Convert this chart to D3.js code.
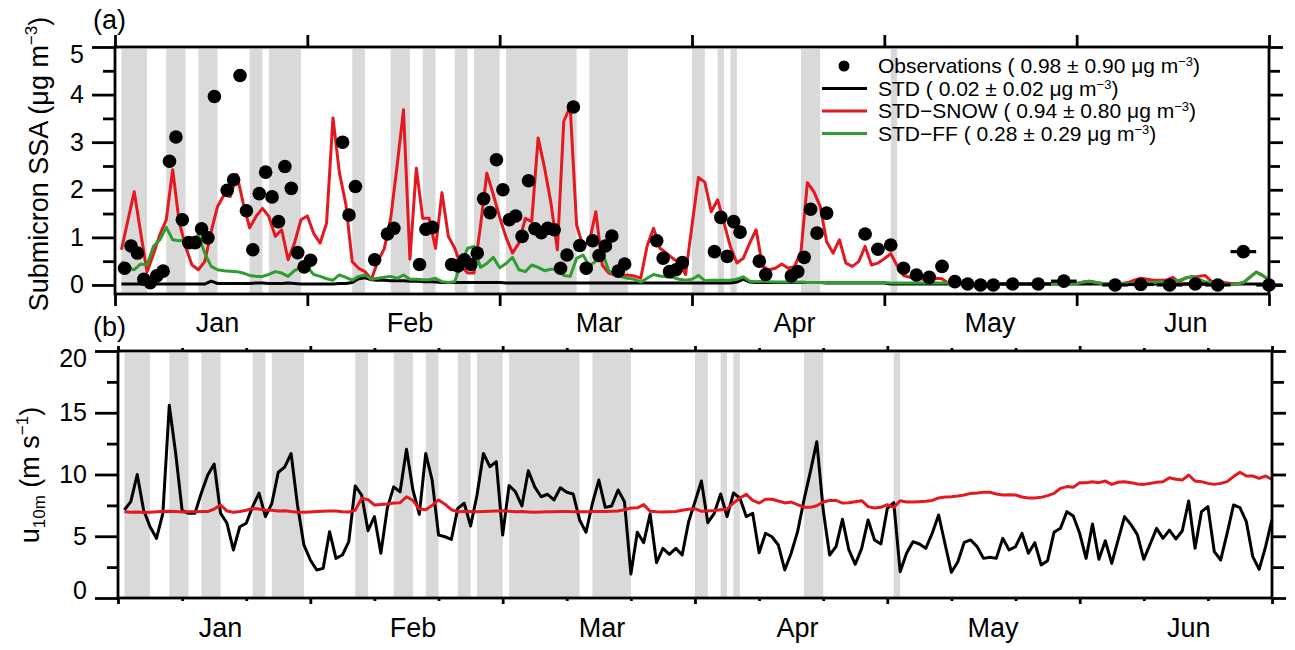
<!DOCTYPE html>
<meta charset="utf-8">
<style>
body { margin: 0; background: #fff; }
text { font-family: "Liberation Sans", Arial, sans-serif; fill: #000; }
.band { fill: #d9d9d9; }
.frame { fill: none; stroke: #000; stroke-width: 2.8px; }
.line { fill: none; stroke-width: 3px; stroke-linejoin: round; }
.tick line { stroke: #000; stroke-width: 2.8px; }
</style>
<body>
<script src="https://d3js.org/d3.v7.min.js"></script>
<script>
// ---- data (x = day, 1 = 1 Jan) ----
var monthLabels = ["Jan", "Feb", "Mar", "Apr", "May", "Jun"];
var monthMid    = [16, 46, 75.5, 106, 136.5, 167];

// grey shading (start / end day)
var bandStart = [1, 8, 13, 21, 24, 37, 43, 48, 53, 56, 61, 74, 90, 94, 96, 107, 121];
var bandEnd   = [5, 11, 16, 23, 29, 39, 46, 50, 55, 60, 72, 80, 92, 95, 97, 110, 122];

// panel (a) model series, one value per day, day 1..180
var stdVals = [
  0.02,0.02,0.02,0.02,0.02,0.02,0.02,0.02,0.02,0.02,
  0.02,0.02,0.02,0.02,0.08,0.03,0.03,0.03,0.03,0.03,
  0.03,0.04,0.04,0.03,0.03,0.03,0.04,0.03,0.02,0.02,
  0.02,0.02,0.02,0.02,0.03,0.03,0.05,0.13,0.15,0.11,
  0.10,0.10,0.09,0.09,0.09,0.08,0.08,0.07,0.07,0.06,
  0.05,0.05,0.05,0.05,0.05,0.05,0.05,0.05,0.05,0.05,
  0.04,0.04,0.04,0.04,0.04,0.04,0.04,0.04,0.04,0.04,
  0.04,0.04,0.04,0.04,0.04,0.04,0.04,0.04,0.04,0.04,
  0.04,0.04,0.04,0.04,0.04,0.04,0.04,0.04,0.04,0.04,
  0.04,0.04,0.04,0.04,0.04,0.04,0.06,0.12,0.06,0.05,
  0.05,0.05,0.05,0.05,0.05,0.05,0.05,0.05,0.05,0.05,
  0.04,0.04,0.04,0.04,0.04,0.04,0.04,0.04,0.04,0.04,
  0.02,0.02,0.02,0.02,0.02,0.02,0.02,0.02,0.02,0.02,
  0.02,0.02,0.02,0.02,0.02,0.02,0.02,0.02,0.02,0.02,
  0.02,0.02,0.02,0.02,0.02,0.02,0.02,0.02,0.02,0.02,
  0.02,0.02,0.02,0.02,0.02,0.02,0.02,0.02,0.02,0.02,
  0.02,0.02,0.02,0.02,0.02,0.02,0.02,0.02,0.02,0.02,
  0.02,0.02,0.02,0.02,0.02,0.02,0.02,0.02,0.02,0.02
];
var snowVals = [
  0.74,1.35,1.96,1.10,0.27,0.65,1.06,1.37,2.42,1.33,
  0.81,0.42,0.32,0.49,1.12,1.65,1.89,1.86,2.32,1.72,
  1.20,1.44,1.61,1.44,1.02,1.16,0.53,0.88,1.37,1.45,
  1.08,0.88,1.30,3.51,2.36,1.70,0.49,0.35,0.28,0.12,
  0.50,0.76,1.40,2.50,3.68,0.54,2.45,1.40,1.40,0.77,
  1.94,1.02,0.77,0.39,0.25,0.25,1.23,2.35,1.90,1.42,
  1.00,0.67,0.88,1.40,1.33,3.09,2.46,1.72,0.74,3.44,
  3.75,1.26,0.81,0.91,1.54,0.42,0.25,0.21,0.19,0.21,
  0.19,0.14,0.82,1.19,0.77,0.67,0.56,0.46,0.22,1.25,
  2.26,2.16,1.54,1.79,1.30,0.80,0.46,0.56,0.88,1.16,
  0.39,0.32,0.35,0.44,0.35,0.39,0.70,2.15,1.96,1.65,
  0.91,0.67,0.95,0.46,0.39,0.49,0.81,0.42,0.46,0.55,
  0.66,0.40,0.20,0.16,0.14,0.12,0.13,0.14,0.13,0.03,
  0.03,0.03,0.03,0.03,0.03,0.03,0.03,0.03,0.03,0.03,
  0.03,0.03,0.03,0.03,0.03,0.03,0.03,0.03,0.03,0.03,
  0.06,0.08,0.05,0.03,0.03,0.03,0.03,0.05,0.10,0.14,
  0.12,0.10,0.10,0.10,0.16,0.06,0.15,0.17,0.18,0.20,
  0.08,0.06,0.05,0.03,0.02,0.05,0.16,0.27,0.20,0.11
];
var ffVals = [
  0.49,0.36,0.32,0.44,0.42,0.81,0.95,1.21,0.95,0.93,
  0.95,0.93,1.05,0.67,0.39,0.32,0.30,0.29,0.28,0.25,
  0.20,0.18,0.18,0.22,0.28,0.25,0.18,0.30,0.37,0.37,
  0.22,0.18,0.13,0.10,0.21,0.16,0.10,0.18,0.21,0.12,
  0.14,0.16,0.18,0.14,0.21,0.12,0.12,0.11,0.11,0.14,
  0.07,0.05,0.07,0.46,0.77,0.81,0.37,0.45,0.58,0.36,
  0.45,0.58,0.32,0.28,0.42,0.37,0.30,0.33,0.33,0.20,
  0.18,0.56,0.63,0.40,0.50,0.70,0.30,0.22,0.17,0.14,
  0.12,0.06,0.14,0.22,0.19,0.17,0.16,0.12,0.10,0.12,
  0.20,0.09,0.10,0.10,0.10,0.10,0.12,0.17,0.08,0.07,
  0.08,0.07,0.06,0.06,0.06,0.06,0.06,0.05,0.05,0.05,
  0.05,0.05,0.05,0.05,0.05,0.05,0.05,0.05,0.05,0.05,
  0.04,0.04,0.04,0.04,0.04,0.04,0.04,0.04,0.04,0.04,
  0.03,0.03,0.03,0.03,0.03,0.03,0.03,0.03,0.03,0.03,
  0.03,0.03,0.03,0.03,0.03,0.03,0.03,0.03,0.03,0.03,
  0.06,0.08,0.05,0.03,0.03,0.03,0.03,0.03,0.03,0.04,
  0.05,0.05,0.06,0.07,0.09,0.10,0.14,0.18,0.12,0.07,
  0.05,0.03,0.02,0.01,0.02,0.05,0.16,0.27,0.20,0.11
];

// observations: day, value, half-width of the sampling period (days)
var obsDay = [1.5,2.5,3.5,4.5,5.5,6.5,7.5,8.5,9.5,10.5,11.5,12.5,13.5,14.5,15.5,
  17.5,18.5,19.5,20.5,21.5,22.5,23.5,24.5,25.5,26.5,27.5,28.5,29.5,30.5,
  35.5,36.5,37.5,40.5,42.5,43.5,47.5,48.5,49.5,
  52.5,53.5,54.5,55.5,56.5,57.5,58.5,59.5,60.5,61.5,62.5,63.5,64.5,65.5,66.5,67.5,
  68.5,69.5,70.5,71.5,72.5,73.5,74.5,75.5,76.5,77.5,78.5,79.5,
  84.5,85.5,86.5,87.5,88.5,93.5,94.5,95.5,96.5,97.5,100.5,101.5,
  105.5,106.5,107.5,108.5,109.5,
  111,117,119,121,123,125,127,129,131,133,135,137,
  140,144,148,156,160,164.5,168.5,172,176,180];
var obsVal = [0.35,0.82,0.67,0.12,0.05,0.19,0.29,2.60,3.11,1.37,0.89,0.89,1.18,0.99,3.96,
  1.99,2.21,4.40,1.56,0.74,1.92,2.37,1.85,1.33,2.49,2.03,0.68,0.38,0.52,
  3.00,1.47,2.07,0.53,1.07,1.19,0.43,1.17,1.21,
  0.43,0.40,0.53,0.43,0.67,1.81,1.52,2.63,2.00,1.37,1.45,1.02,2.19,1.18,1.10,1.19,
  1.16,0.35,0.63,3.74,0.83,0.35,0.93,0.62,0.82,1.03,0.29,0.44,
  0.93,0.56,0.28,0.32,0.47,0.70,1.42,0.60,1.33,1.11,0.50,0.22,
  0.19,0.28,0.58,1.59,1.09,
  1.51,1.07,0.75,0.84,0.35,0.21,0.16,0.39,0.07,0.02,0.00,0.00,
  0.02,0.02,0.08,0.00,0.01,0.00,0.02,0.00,0.70,0.00];
var obsHalf = [0,0,0,0,0,0,0,0,0,0,0,0,0,0,0,
  0,0,0,0,0,0,0,0,0,0,0,0,0,0,
  0,0,0,0,0,0,0,0,0,
  0,0,0,0,0,0,0,0,0,0,0,0,0,0,0,0,
  0,0,0,0,0,0,0,0,0,0,0,0,
  0,0,0,0,0,0,0,0,0,0,0,0,
  0,0,0,0,0,
  1,1,1,1,1,1,1,1,1,1,1,1,
  2,2,2,2,2,2,2,2,2,2];

var legendNames = ["Observations", "STD", "STD\u2212SNOW", "STD\u2212FF"];
var legendMean  = ["0.98", "0.02", "0.94", "0.28"];
var legendSd    = ["0.90", "0.02", "0.80", "0.29"];
var legendColor = ["#000", "#000", "#e3191f", "#2f9e2f"];

// panel (b) wind speed, day 1..180
var windObs = [
  7.13,7.80,10.00,7.10,5.77,4.83,6.86,15.60,11.70,7.10,
  6.86,6.86,8.50,9.96,10.85,6.86,6.05,3.89,5.77,6.05,
  7.40,8.50,6.59,7.67,10.18,10.60,11.70,7.50,4.29,3.08,
  2.27,2.40,5.37,3.21,3.48,4.56,9.07,8.34,5.45,6.59,
  3.62,7.26,9.00,8.60,12.04,8.75,6.77,11.70,9.55,5.10,
  4.96,4.75,7.26,7.67,5.83,8.34,11.70,10.63,11.04,5.10,
  9.10,8.60,7.45,10.30,9.00,8.20,8.40,7.94,8.93,8.56,
  8.42,6.32,5.32,7.67,9.55,7.34,7.45,8.75,7.80,1.94,
  5.32,4.48,6.80,2.86,4.02,3.54,4.02,3.48,6.18,7.80,
  9.47,6.10,6.86,8.42,6.59,8.50,8.10,6.59,6.86,3.67,
  5.24,4.96,4.29,2.27,3.62,5.37,7.94,10.23,12.66,7.10,
  3.48,4.16,6.37,3.89,2.73,4.02,6.32,4.70,4.37,7.26,
  7.72,2.13,3.62,4.56,4.37,4.02,5.24,6.72,4.37,2.08,
  2.94,4.51,4.70,4.16,3.21,3.30,3.21,4.83,3.89,4.16,
  5.24,3.62,4.48,2.67,3.02,5.32,5.64,6.99,6.64,5.24,
  3.21,5.99,3.13,4.64,2.80,4.70,6.59,5.94,5.13,3.13,
  4.37,5.64,4.83,5.50,4.78,5.43,7.85,4.02,6.99,7.40,
  3.75,3.08,5.24,7.53,7.31,6.18,3.35,2.32,4.16,6.37
];
var windModel = [
  6.99,6.95,6.97,6.93,6.95,6.98,7.00,7.02,7.00,6.97,
  6.98,6.98,7.00,7.00,7.20,7.53,7.05,6.95,7.00,7.10,
  7.25,7.20,7.10,7.10,7.05,7.07,7.00,6.95,6.95,6.97,
  7.00,7.02,7.05,7.05,6.98,6.97,7.10,8.07,7.96,7.53,
  7.58,7.62,7.69,7.72,8.20,7.90,7.20,7.15,7.50,7.94,
  7.60,7.15,6.99,7.00,7.00,6.98,7.00,7.02,7.05,7.06,
  7.02,6.98,7.00,6.97,6.95,6.96,6.98,6.98,7.00,7.00,
  6.98,6.98,6.98,7.00,7.00,7.00,7.02,7.05,7.15,7.29,
  7.30,7.56,7.02,6.98,6.97,6.98,7.00,7.10,7.18,7.23,
  7.02,7.05,7.08,7.15,7.20,7.69,8.10,8.39,7.90,7.69,
  7.99,8.00,7.85,7.70,7.77,7.56,7.34,7.34,7.47,7.77,
  7.90,7.90,7.69,7.72,7.80,7.88,7.40,7.29,7.34,7.56,
  7.34,7.88,7.77,7.77,7.80,7.83,7.90,8.10,8.18,8.20,
  8.26,8.34,8.47,8.50,8.56,8.56,8.42,8.34,8.36,8.34,
  8.18,8.10,8.10,8.15,8.29,8.47,8.88,9.02,8.96,9.34,
  9.34,9.42,9.34,9.47,9.20,9.37,9.42,9.34,9.23,9.20,
  9.28,9.37,9.42,9.74,9.61,9.55,9.96,9.47,9.42,9.28,
  9.20,9.28,9.42,9.83,10.18,9.88,9.88,9.69,9.88,9.61
];

// ---- layout ----
var W = 1295, H = 650;
var svg = d3.select("body").append("svg").attr("width", W).attr("height", H);

var xa = d3.scaleLinear().domain([0, 180]).range([115, 1269]);
var ya = d3.scaleLinear().domain([-0.19, 5]).range([294, 47]);
var xb = d3.scaleLinear().domain([0, 180]).range([118, 1272]);
var yb = d3.scaleLinear().domain([0, 20]).range([598, 351]);

function series(vals) {
  return vals.map(function(v, i) { return {d: i + 1, v: v}; });
}

function drawBands(g, x, y) {
  g.selectAll("rect.band").data(bandStart).enter().append("rect")
    .attr("class", "band")
    .attr("x", function(d) { return x(d); })
    .attr("width", function(d, i) { return x(bandEnd[i]) - x(d); })
    .attr("y", y.range()[1] + 2)
    .attr("height", y.range()[0] - y.range()[1] - 3);
}

function drawLine(g, x, y, vals, color) {
  var line = d3.line().x(function(p) { return x(p.d); }).y(function(p) { return y(p.v); });
  g.append("path").datum(series(vals)).attr("class", "line")
    .style("stroke", color).attr("d", line);
}

function drawFrame(g, x, y) {
  g.append("rect").attr("class", "frame")
    .attr("x", x.range()[0]).attr("y", y.range()[1])
    .attr("width", x.range()[1] - x.range()[0])
    .attr("height", y.range()[0] - y.range()[1]);
}

function axis(g, gen, tr) {
  var a = g.append("g").attr("transform", tr).call(gen);
  a.select(".domain").remove();
  return a;
}

var monthTicks = [0, 30, 60, 90, 120, 150, 180];
var tenDayTicks = [10, 20, 40, 50, 70, 80, 100, 110, 130, 140, 160, 170];

// ================= panel (a) =================
var ga = svg.append("g");
drawBands(ga, xa, ya);
drawLine(ga, xa, ya, stdVals, "#000");
drawLine(ga, xa, ya, snowVals, "#e3191f");
drawLine(ga, xa, ya, ffVals, "#2f9e2f");

// observation sampling bars and dots
ga.selectAll("line.obsbar").data(obsDay).enter().append("line")
  .attr("x1", function(d, i) { return xa(d - obsHalf[i]); })
  .attr("x2", function(d, i) { return xa(d + obsHalf[i]); })
  .attr("y1", function(d, i) { return ya(obsVal[i]); })
  .attr("y2", function(d, i) { return ya(obsVal[i]); })
  .style("stroke", "#000").style("stroke-width", 3.2);
ga.selectAll("circle.obs").data(obsDay).enter().append("circle")
  .attr("cx", function(d) { return xa(d); })
  .attr("cy", function(d, i) { return ya(obsVal[i]); })
  .attr("r", 6.8).style("fill", "#000");

drawFrame(ga, xa, ya);

var aLeft = axis(ga, d3.axisLeft(ya).tickValues([0, 1, 2, 3, 4, 5]).tickSize(23).tickPadding(8)
  .tickFormat(d3.format("d")), "translate(115,0)");
axis(ga, d3.axisLeft(ya).tickValues([0.5, 1.5, 2.5, 3.5, 4.5]).tickSize(12).tickFormat(""), "translate(115,0)");
axis(ga, d3.axisRight(ya).tickValues([0, 1, 2, 3, 4, 5]).tickSize(14).tickFormat(""), "translate(1269,0)");
axis(ga, d3.axisRight(ya).tickValues([0.5, 1.5, 2.5, 3.5, 4.5]).tickSize(11).tickFormat(""), "translate(1269,0)");
axis(ga, d3.axisTop(xa).tickValues(monthTicks).tickSize(12).tickFormat(""), "translate(0,47)");
axis(ga, d3.axisBottom(xa).tickValues(monthTicks).tickSize(12).tickFormat(""), "translate(0,294)");
aLeft.selectAll("text").style("font-size", "25px");
aLeft.selectAll("text").filter(function(d) { return d === 5; }).attr("dy", "0.62em");

ga.selectAll("text.month").data(monthLabels).enter().append("text")
  .attr("x", function(d, i) { return xa(monthMid[i]); })
  .attr("y", 332).attr("text-anchor", "middle")
  .style("font-size", "27px").text(function(d) { return d; });

ga.append("text").attr("x", 93).attr("y", 29).style("font-size", "27px").text("(a)");

var ta = ga.append("text").attr("transform", "translate(48,164) rotate(-90)")
  .attr("text-anchor", "middle").style("font-size", "27px");
ta.append("tspan").text("Submicron SSA (\u03bcg m");
ta.append("tspan").attr("dy", -11).style("font-size", "17px").text("\u22123");
ta.append("tspan").attr("dy", 11).text(")");

// legend
var lg = ga.append("g");
legendNames.forEach(function(name, i) {
  var yy = 66 + i * 22.5;
  if (i === 0) {
    lg.append("circle").attr("cx", 844).attr("cy", yy).attr("r", 5.5).style("fill", "#000");
  } else {
    lg.append("line").attr("x1", 822).attr("x2", 867).attr("y1", yy).attr("y2", yy)
      .style("stroke", legendColor[i]).style("stroke-width", 3.2);
  }
  var t = lg.append("text").attr("x", 878).attr("y", yy + 7).style("font-size", "21px");
  t.append("tspan").text(name + " ( " + legendMean[i] + " \u00b1 " + legendSd[i] + " \u03bcg m");
  t.append("tspan").attr("dy", -7).style("font-size", "13px").text("\u22123");
  t.append("tspan").attr("dy", 7).text(")");
});

// ================= panel (b) =================
var gb = svg.append("g");
drawBands(gb, xb, yb);
drawLine(gb, xb, yb, windObs, "#000");
drawLine(gb, xb, yb, windModel, "#e3191f");
drawFrame(gb, xb, yb);

var bLeft = axis(gb, d3.axisLeft(yb).tickValues([0, 5, 10, 15, 20]).tickSize(23).tickPadding(8)
  .tickFormat(d3.format("d")), "translate(118,0)");
axis(gb, d3.axisLeft(yb).tickValues([2.5, 7.5, 12.5, 17.5]).tickSize(11).tickFormat(""), "translate(118,0)");
axis(gb, d3.axisRight(yb).tickValues([0, 5, 10, 15, 20]).tickSize(14).tickFormat(""), "translate(1272,0)");
axis(gb, d3.axisRight(yb).tickValues([2.5, 7.5, 12.5, 17.5]).tickSize(12).tickFormat(""), "translate(1272,0)");
axis(gb, d3.axisTop(xb).tickValues(monthTicks).tickSize(5).tickFormat(""), "translate(0,351)");
axis(gb, d3.axisTop(xb).tickValues(tenDayTicks).tickSize(3).tickFormat(""), "translate(0,351)");
axis(gb, d3.axisBottom(xb).tickValues(monthTicks).tickSize(6).tickFormat(""), "translate(0,598)");
axis(gb, d3.axisBottom(xb).tickValues(tenDayTicks).tickSize(3).tickFormat(""), "translate(0,598)");
bLeft.selectAll("text").style("font-size", "25px");
bLeft.selectAll("text").filter(function(d) { return d === 20; }).attr("dy", "0.62em");
bLeft.selectAll("text").filter(function(d) { return d === 0; }).attr("dy", "0em");

gb.selectAll("text.month").data(monthLabels).enter().append("text")
  .attr("x", function(d, i) { return xb(monthMid[i]); })
  .attr("y", 637).attr("text-anchor", "middle")
  .style("font-size", "27px").text(function(d) { return d; });

gb.append("text").attr("x", 93).attr("y", 336).style("font-size", "27px").text("(b)");

var tb = gb.append("text").attr("transform", "translate(39,475) rotate(-90)")
  .attr("text-anchor", "middle").style("font-size", "27px");
tb.append("tspan").text("u");
tb.append("tspan").attr("dy", 6).style("font-size", "17px").text("10m");
tb.append("tspan").attr("dy", -6).text(" (m s");
tb.append("tspan").attr("dy", -11).style("font-size", "17px").text("\u22121");
tb.append("tspan").attr("dy", 11).text(")");
</script>
</body>
